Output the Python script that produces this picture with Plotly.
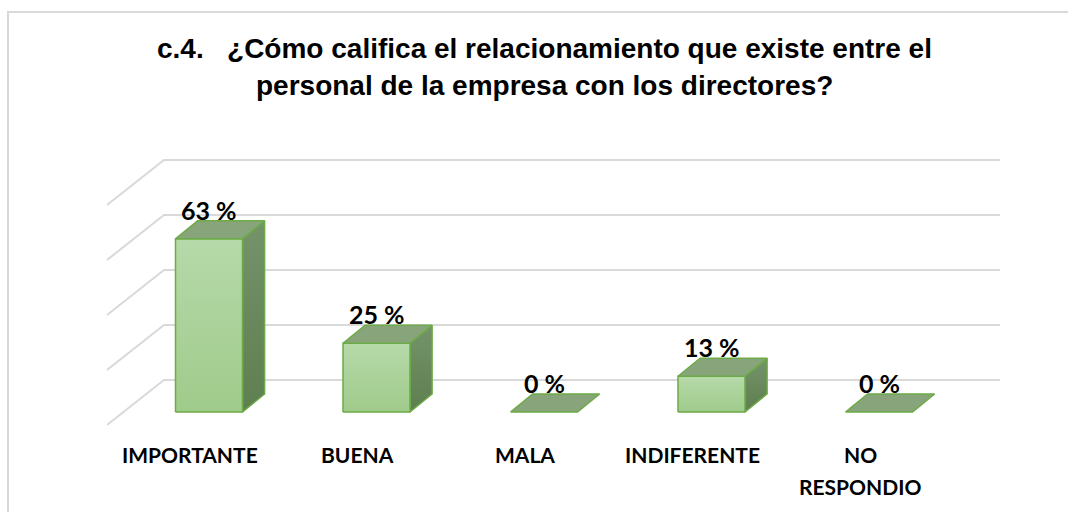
import plotly.graph_objects as go

# Survey results (percent of respondents)
categories = ["IMPORTANTE", "BUENA", "MALA", "INDIFERENTE", "NO<br>RESPONDIO"]
values = [63, 25, 0, 13, 0]
value_labels = [f"{v} %" for v in values]
grid_values = [0, 20, 40, 60, 80]

title_lines = [
    "c.4.\u00a0\u00a0\u00a0¿Cómo califica el relacionamiento que existe entre el",
    "personal de la empresa con los directores?",
]

# --- geometry of the pseudo-3D scene (data units) ---
W, H = 1068, 512
PX_X = 167.5          # pixels per category step
PX_Y = 2.75           # pixels per percent
X0_PX, Y0_PX = 209, 412
x_range = [(0 - X0_PX) / PX_X, (W - X0_PX) / PX_X]
y_range = [(Y0_PX - H) / PX_Y, Y0_PX / PX_Y]

BAR_W = 0.40
DEPTH_X, DEPTH_Y = 0.132, 6.55        # bar depth offset
WALL_LEFT_FRONT = (107 - X0_PX) / PX_X
WALL_LEFT_BACK = (164 - X0_PX) / PX_X
WALL_RIGHT = (1000 - X0_PX) / PX_X
WALL_Y, FLOOR_Y = 11.64, -4.73        # back wall / floor front height offsets

GRID = "#d9d9d9"
EDGE = "#6cab46"
FRONT_TOP, FRONT_BOT = "#b6d9a9", "#9fcb8b"
SIDE_TOP, SIDE_BOT = "#74936a", "#5e7f50"
TOP_FACE = "#88a47b"

fig = go.Figure()

# back wall gridlines joined to the left wall diagonals
for g in grid_values:
    fig.add_trace(go.Scatter(
        x=[WALL_LEFT_FRONT, WALL_LEFT_BACK, WALL_RIGHT],
        y=[g + FLOOR_Y, g + WALL_Y, g + WALL_Y],
        mode="lines", line=dict(color=GRID, width=2),
        hoverinfo="skip", showlegend=False,
    ))


def poly(xs, ys, fill=None, gradient=None):
    kw = dict(fillcolor=fill) if fill else dict(
        fillgradient=dict(type="vertical",
                          colorscale=[[0, gradient[0]], [1, gradient[1]]],
                          start=gradient[2], stop=gradient[3]))
    fig.add_trace(go.Scatter(
        x=xs + xs[:1], y=ys + ys[:1], mode="lines", fill="toself",
        line=dict(color=EDGE, width=1.5), hoverinfo="skip",
        showlegend=False, **kw,
    ))


for i, v in enumerate(values):
    xl, xr = i - BAR_W / 2, i + BAR_W / 2
    if v > 0:
        # right side face
        poly([xr, xr + DEPTH_X, xr + DEPTH_X, xr],
             [0, DEPTH_Y, v + DEPTH_Y, v],
             gradient=(SIDE_BOT, SIDE_TOP, 0, v + DEPTH_Y))
        # front face
        poly([xl, xr, xr, xl], [0, 0, v, v],
             gradient=(FRONT_BOT, FRONT_TOP, 0, v))
    # top face
    poly([xl, xr, xr + DEPTH_X, xl + DEPTH_X],
         [v, v, v + DEPTH_Y, v + DEPTH_Y], fill=TOP_FACE)

label_font = dict(family="Lato, Carlito, sans-serif", color="#000000")

# value labels above each bar
for i, (v, t) in enumerate(zip(values, value_labels)):
    fig.add_annotation(x=i, y=v + 10.5, text=f"<b>{t}</b>", showarrow=False,
                       xanchor="center", yanchor="middle",
                       font=dict(size=25, **label_font))

# category labels along the front of the floor
for i, c in enumerate(categories):
    for k, line in enumerate(c.split("<br>")):
        fig.add_annotation(x=i - 0.112, y=(Y0_PX - 454 - 32 * k) / PX_Y,
                           text=f"<b>{line}</b>", showarrow=False,
                           xanchor="center", yanchor="middle",
                           font=dict(size=21, **label_font))

# title
for k, line in enumerate(title_lines):
    fig.add_annotation(xref="paper", yref="paper", x=544 / W,
                       y=1 - (48 + 37 * k) / H, text=f"<b>{line}</b>",
                       showarrow=False, xanchor="center", yanchor="middle",
                       font=dict(family="Liberation Sans, Arial, sans-serif",
                                 size=28, color="#000000"))

# chart frame
fig.add_shape(type="rect", xref="paper", yref="paper",
              x0=8 / W, x1=1.05, y0=-0.05, y1=1 - 12 / H,
              line=dict(color="#d9d9d9", width=2), layer="below")

fig.update_layout(
    width=W, height=H, margin=dict(l=0, r=0, t=0, b=0),
    paper_bgcolor="white", plot_bgcolor="white",
    xaxis=dict(range=x_range, visible=False, fixedrange=True),
    yaxis=dict(range=y_range, visible=False, fixedrange=True),
    showlegend=False,
)

fig.write_html("out.html")
